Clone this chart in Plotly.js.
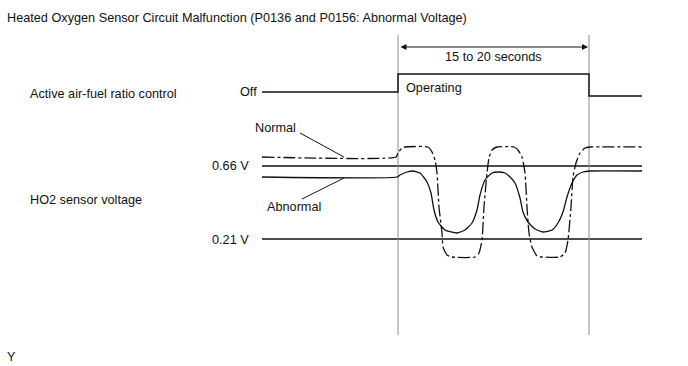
<!DOCTYPE html>
<html><head><meta charset="utf-8">
<script src="https://cdn.plot.ly/plotly-3.0.1.min.js"></script>
<style>html,body{margin:0;padding:0;background:#fff;}#c{width:688px;height:366px;}</style>
</head><body><div id="c"></div>
<script>
// Diagram values (drawing units: x = time axis, y = signal level axis, top-down)
const afrX = [262, 398, 398, 589, 589, 642];
const afrY = [92, 92, 74, 74, 96, 96];
const normalX = [262, 396, 398, 402, 405, 428, 432, 435, 437, 439, 442, 443, 447, 452, 475, 479, 482, 484, 487, 489, 492, 497, 514, 518, 522, 525, 527, 529, 532, 537, 542, 560, 565, 568, 571, 573, 576, 580, 585, 590, 642];
const normalY = [157, 157, 153, 148, 147, 147, 152, 160, 173, 207, 233, 247, 255, 257, 257, 253, 240, 207, 173, 158, 150, 147, 147, 150, 157, 173, 207, 233, 247, 256, 257, 257, 253, 240, 207, 177, 163, 153, 148, 147, 147];
const abnormalX = [262, 397, 400, 407, 413, 420, 427, 431, 434, 438, 445, 457, 465, 472, 477, 480, 485, 492, 498, 505, 510, 515, 520, 523, 528, 535, 543, 552, 558, 563, 567, 572, 577, 583, 590, 642];
const abnormalY = [177, 177, 175, 172, 171, 173, 182, 193, 210, 222, 230, 233, 230, 223, 210, 195, 180, 173, 172, 173, 177, 183, 198, 212, 222, 229, 232, 230, 223, 212, 197, 183, 175, 172, 171, 171];
const refLevelsY = [166, 239];           // 0.66 V and 0.21 V reference lines
const refLabels = ["0.66 V", "0.21 V"];
const levelX = [262, 642];
const markerX = [398, 589];              // start / end of operating window
const markerY = [35, 335];
const spanLabel = "15 to 20 seconds";

const FONT = {family: "Arial, 'Liberation Sans', sans-serif", size: 12.7, color: "#111"};
const traces = [];
refLevelsY.forEach(y => traces.push({x: levelX, y: [y, y], mode: "lines", line: {color: "#111", width: 1.6}, hoverinfo: "skip"}));
markerX.forEach(x => traces.push({x: [x, x], y: markerY, mode: "lines", line: {color: "#8a8a8a", width: 1}, hoverinfo: "skip"}));
traces.push({x: afrX, y: afrY, mode: "lines", line: {color: "#111", width: 1.4}, hoverinfo: "skip"});
traces.push({x: normalX, y: normalY, mode: "lines", line: {color: "#111", width: 1.3, shape: "spline", smoothing: 0.5, dash: "12px,3px,3px,3px"}, hoverinfo: "skip"});
traces.push({x: abnormalX, y: abnormalY, mode: "lines", line: {color: "#111", width: 1.3, shape: "spline", smoothing: 0.5}, hoverinfo: "skip"});
traces.push({x: [300, 344], y: [133, 157], mode: "lines", line: {color: "#111", width: 1}, hoverinfo: "skip"});
traces.push({x: [302, 344], y: [199, 178], mode: "lines", line: {color: "#111", width: 1}, hoverinfo: "skip"});

function txt(x, y, t, anchor) {
  return {x: x, y: y, text: t, showarrow: false, xanchor: anchor || "left", yanchor: "middle", font: FONT, xref: "x", yref: "y", borderpad: 0};
}
const annotations = [
  txt(6, 18, "Heated Oxygen Sensor Circuit Malfunction (P0136 and P0156: Abnormal Voltage)"),
  txt(29, 94, "Active air-fuel ratio control"),
  txt(29, 200, "HO2 sensor voltage"),
  txt(258, 92, "Off", "right"),
  txt(405, 88, "Operating"),
  txt(493, 57, spanLabel, "center"),
  txt(275, 128, "Normal", "center"),
  txt(294, 207, "Abnormal", "center"),
  txt(250, 166, refLabels[0], "right"),
  txt(250, 240, refLabels[1], "right"),
  txt(6, 357, "Y"),
  {x: markerX[1] - 1, y: 47, ax: markerX[0] + 1, ay: 47, xref: "x", yref: "y", axref: "x", ayref: "y", text: "",
   showarrow: true, arrowhead: 2, arrowside: "end+start", arrowsize: 1.2, arrowwidth: 1, arrowcolor: "#111"}
];

const layout = {
  width: 688, height: 366, margin: {l: 0, r: 0, t: 0, b: 0},
  paper_bgcolor: "#fff", plot_bgcolor: "#fff", showlegend: false,
  xaxis: {range: [0, 688], visible: false, fixedrange: true},
  yaxis: {range: [366, 0], visible: false, fixedrange: true},
  annotations: annotations
};
Plotly.newPlot("c", traces, layout, {staticPlot: true, displayModeBar: false});
</script></body></html>
